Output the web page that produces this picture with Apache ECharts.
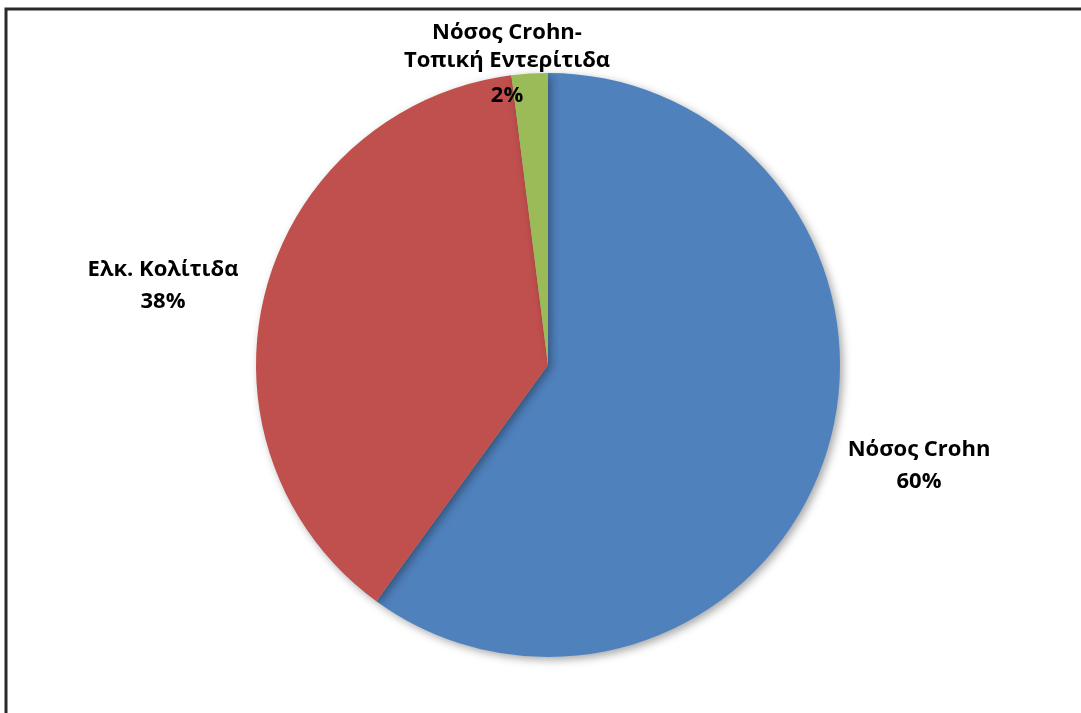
<!DOCTYPE html>
<html>
<head>
<meta charset="utf-8">
<script src="https://cdn.jsdelivr.net/npm/echarts@6/dist/echarts.min.js"></script>
<style>html,body{margin:0;padding:0;background:#fff}#c{width:1081px;height:713px}</style>
</head>
<body>
<div id="c"></div>
<script>
const categories = ['Νόσος Crohn', 'Ελκ. Κολίτιδα', 'Νόσος Crohn-\nΤοπική Εντερίτιδα'];
const values = [60, 38, 2];
const colors = ['#4F81BD', '#C0504D', '#9BBB59'];

const chart = echarts.init(document.getElementById('c'), null, {renderer: 'canvas'});
chart.setOption({
  animation: false,
  backgroundColor: '#ffffff',
  graphic: [{
    type: 'rect', silent: true, z: 100,
    shape: {x: 6, y: 9, width: 1200, height: 1000},
    style: {fill: 'none', stroke: '#2a2a2a', lineWidth: 3}
  }],
  series: [{
    type: 'pie',
    center: [548, 365],
    radius: 292,
    startAngle: 90,
    clockwise: true,
    percentPrecision: 0,
    data: categories.map((c, i) => ({name: c, value: values[i], itemStyle: {color: colors[i]}})),
    itemStyle: {
      borderWidth: 0,
      shadowBlur: 8, shadowOffsetX: 3, shadowOffsetY: 3, shadowColor: 'rgba(0,0,0,0.35)'
    },
    label: {
      show: true, position: 'outside',
      formatter: function (p) {
        if (p.dataIndex === 2) {
          return p.name.split('\n').map(s => '{n|' + s + '}').join('\n') + '\n{p|' + p.percent + '%}';
        }
        return '{m|' + p.name + '}\n{m|' + p.percent + '%}';
      },
      fontFamily: 'Open Sans', fontWeight: 'bold', fontSize: 22,
      color: '#000', align: 'center',
      rich: {
        m: {fontFamily: 'Open Sans', fontWeight: 'bold', fontSize: 22, lineHeight: 32, color: '#000'},
        n: {fontFamily: 'Open Sans', fontWeight: 'bold', fontSize: 22, lineHeight: 28, color: '#000'},
        p: {fontFamily: 'Open Sans', fontWeight: 'bold', fontSize: 22, lineHeight: 42, color: '#000'}
      }
    },
    labelLine: {show: false, length: 20, length2: 3},
    labelLayout: function (p) {
      if (p.dataIndex === 2) {
        return {x: 507, y: 68, align: 'center', verticalAlign: 'middle'};
      }
      if (p.dataIndex === 0) {
        return {x: 919, y: 466, align: 'center', verticalAlign: 'middle'};
      }
      return {x: 163, y: 286, align: 'center', verticalAlign: 'middle'};
    }
  }]
});
</script>
</body>
</html>
